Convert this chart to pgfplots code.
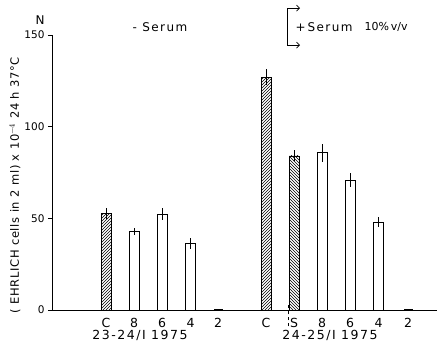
\documentclass[border=0pt]{standalone}
\usepackage{pgfplots}
\pgfplotsset{compat=1.18}
\usepackage{fontspec}
\setmainfont{DejaVu Sans}
\newfontfamily\wide[LetterSpace=12]{DejaVu Sans}
\newfontfamily\widey[LetterSpace=6]{DejaVu Sans}
\usetikzlibrary{patterns,arrows.meta}
\begin{document}
\begin{tikzpicture}
\useasboundingbox (0,0) rectangle (437pt,347pt);
\begin{axis}[
  at={(52pt,37pt)}, anchor=south west,
  scale only axis, width=385pt, height=275pt,
  xmin=52, xmax=437, ymin=0, ymax=150,
  axis x line=bottom, axis y line=left,
  axis line style={-, line width=0.9pt},
  ytick={0,50,100,150},
  yticklabel style={font=\fontsize{10.5}{12}\selectfont},
  /pgf/number format/assume math mode=true,
  tick align=outside, major tick length=4pt,
  tick style={line width=0.8pt, black},
  xtick={106,134,162,190.5,218,266,294,322,350,378.5,408},
  xticklabels={C,8,6,4,2,C,S,8,6,4,2},
  x tick style={draw=none},
  xticklabel style={font=\fontsize{12.5}{13}\selectfont, yshift=-1pt},
  clip=false,
  every axis plot/.append style={line width=0.8pt},
]
% hatched control bars (north east)
\addplot[ybar, bar width=10pt, bar shift=0pt, draw=black, pattern=north east lines,
  error bars/.cd, y dir=both, y explicit, error mark=none, error bar style={line width=0.8pt}]
  coordinates {(106,52.7) +- (0,2.8) (266,127) +- (0,4.3)};
% S bar (north west hatch)
\addplot[ybar, bar width=10pt, bar shift=0pt, draw=black, pattern=north west lines,
  error bars/.cd, y dir=both, y explicit, error mark=none, error bar style={line width=0.8pt}]
  coordinates {(294,84) +- (0,3)};
% open bars
\addplot[ybar, bar width=10pt, bar shift=0pt, draw=black, fill=white,
  error bars/.cd, y dir=both, y explicit, error mark=none, error bar style={line width=0.8pt}]
  coordinates {(134,42.9) +- (0,2) (162,52.2) +- (0,3.2) (190.5,36.3) +- (0,3.2)
               (322,85.7) +- (0,5) (350,70.9) +- (0,4) (378.5,47.8) +- (0,2.7)};
% near-zero bars
\addplot[ybar, bar width=8pt, bar shift=0pt, draw=black, fill=black]
  coordinates {(218,0.5) (408,0.5)};
% dashed marker line at S
\draw[dashed, line width=0.6pt] (axis cs:288,-9) -- (axis cs:288,4);
% texts
\node[font=\fontsize{12}{13}\selectfont] at (axis cs:40,158.2) {N};
\node[font=\wide\fontsize{12}{13}\selectfont] at (axis cs:160,154.4) {- Serum};
\draw[line width=0.7pt, {Straight Barb[length=3pt]}-{Straight Barb[length=3pt]}]
  (axis cs:300,164.7) -- (axis cs:287,164.7) -- (axis cs:287,144.5) -- (axis cs:300,144.5);
\node[font=\wide\fontsize{12}{13}\selectfont, anchor=west] at (axis cs:292,154.4) {+\,Serum};
\node[font=\fontsize{11}{12}\selectfont, anchor=west] at (axis cs:361,154.4) {10\%\,v/v};
\node[font=\wide\fontsize{12.5}{13}\selectfont] at (axis cs:140,-14) {23-24/I 1975};
\node[font=\wide\fontsize{12.5}{13}\selectfont] at (axis cs:330,-14) {24-25/I 1975};
\node[rotate=90, font=\widey\fontsize{11.5}{12}\selectfont] at (axis cs:15,68) {( EHRLICH cells in 2 ml) x 10$^{-4}$ 24 h 37°C};
\end{axis}
\end{tikzpicture}
\end{document}
